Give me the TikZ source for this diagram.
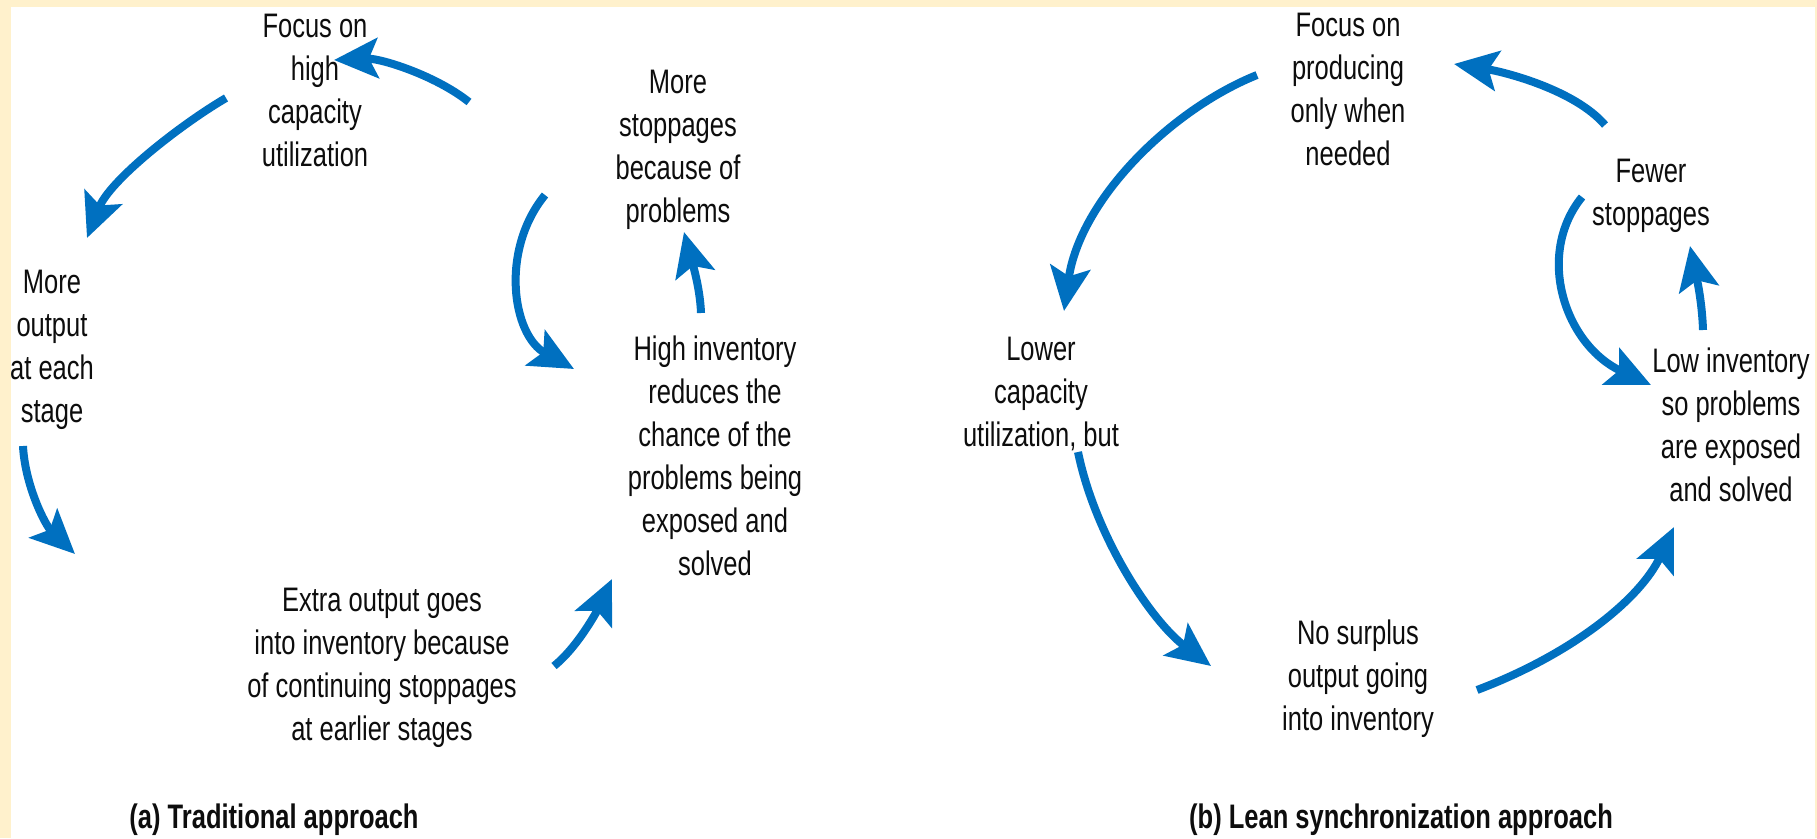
\documentclass[tikz,border=0pt]{standalone}
\usepackage{fontspec}
\setmainfont{Liberation Sans}[FakeStretch=0.75]
\usetikzlibrary{arrows.meta}
\definecolor{cream}{RGB}{255,241,204}
\definecolor{flowblue}{RGB}{0,112,192}
\begin{document}
\begin{tikzpicture}[x=1pt,y=-1pt,
  label text/.style={inner sep=0pt, align=center, text=black!95,
    font=\fontsize{34}{43}\selectfont},
  caption text/.style={inner sep=0pt, text=black!95, font=\bfseries\fontsize{34}{38}\selectfont},
  flow/.style={draw=flowblue, line width=8pt,
    -{Stealth[length=44pt,width=40pt,inset=9pt]}}]
% frame
\fill[cream] (0,0) rectangle (1817,838);
\fill[white] (11,7) rectangle (1815,838);
\useasboundingbox (0,0) rectangle (1817,838);

% ---- traditional cycle ----
\node[label text] (tfocus) at (315,90) {Focus on\\high\\capacity\\utilization};
\node[label text] (tstop) at (678,150) {More\\stoppages\\because of\\problems};
\node[label text] (tout) at (52,350) {More\\output\\at each\\stage};
\node[label text] (tinv) at (715,456) {High inventory\\reduces the\\chance of the\\problems being\\exposed and\\solved};
\node[label text] (textra) at (382,668) {Extra output goes\\into inventory because\\of continuing stoppages\\at earlier stages};
\node[caption text] (tcap) at (274,820) {(a) Traditional approach};

\coordinate (a1s) at (469,102); \coordinate (a1e) at (334,60);
\coordinate (a2s) at (226,98);  \coordinate (a2e) at (87,238);
\coordinate (a3s) at (23,446);  \coordinate (a3e) at (75,554);
\coordinate (a4s) at (554,666); \coordinate (a4e) at (612,579);
\coordinate (a5s) at (545,195); \coordinate (a5e) at (574,369);
\coordinate (a6s) at (701,313); \coordinate (a6e) at (684,232);

\draw[flow] (a1s) .. controls (435,75) and (380,58) .. (a1e);
\draw[flow] (a2s) .. controls (180,125) and (110,180) .. (a2e);
\draw[flow] (a3s) .. controls (25,485) and (45,525) .. (a3e);
\draw[flow] (a4s) .. controls (580,645) and (600,605) .. (a4e);
\draw[flow] (a5s) .. controls (500,250) and (512,335) .. (a5e);
\draw[flow] (a6s) .. controls (700,285) and (690,255) .. (a6e);

% ---- lean cycle ----
\node[label text] (lfocus) at (1348,89) {Focus on\\producing\\only when\\needed};
\node[label text] (lstop) at (1651,196) {Fewer\\stoppages};
\node[label text] (lcap) at (1041,394) {Lower\\capacity\\utilization, but};
\node[label text] (linv) at (1731,425) {Low inventory\\so problems\\are exposed\\and solved};
\node[label text] (lsur) at (1358,679) {No surplus\\output going\\into inventory};
\node[caption text] (lcapt) at (1401,820) {(b) Lean synchronization approach};

\coordinate (b1s) at (1257,75);  \coordinate (b1e) at (1064,311);
\coordinate (b2s) at (1605,125); \coordinate (b2e) at (1454,64);
\coordinate (b3s) at (1582,197); \coordinate (b3e) at (1651,385);
\coordinate (b4s) at (1703,330); \coordinate (b4e) at (1690,246);
\coordinate (b5s) at (1078,452); \coordinate (b5e) at (1211,666);
\coordinate (b6s) at (1477,690); \coordinate (b6e) at (1674,527);

\draw[flow] (b1s) .. controls (1170,110) and (1080,200) .. (b1e);
\draw[flow] (b2s) .. controls (1575,90) and (1505,72) .. (b2e);
\draw[flow] (b3s) .. controls (1535,255) and (1565,345) .. (b3e);
\draw[flow] (b4s) .. controls (1702,300) and (1696,275) .. (b4e);
\draw[flow] (b5s) .. controls (1095,535) and (1150,620) .. (b5e);
\draw[flow] (b6s) .. controls (1570,655) and (1640,600) .. (b6e);
\end{tikzpicture}
\end{document}
